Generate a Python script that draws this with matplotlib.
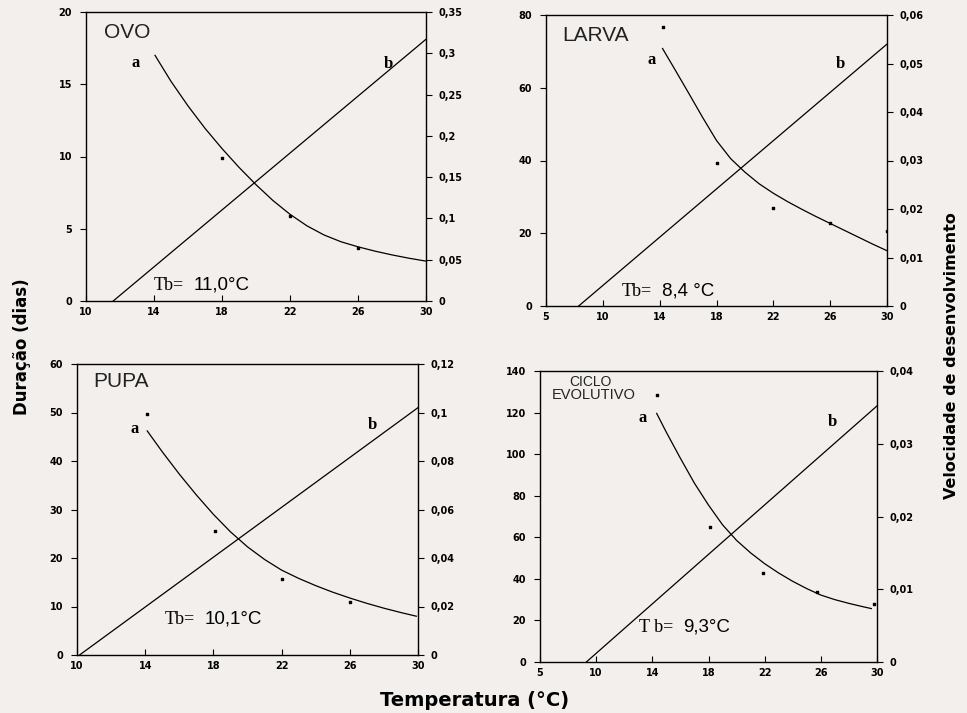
import matplotlib
matplotlib.use("Agg")
import matplotlib.pyplot as plt

BG = "#f2efec"
W, H = 967, 713

# ---------------- data ----------------
# OVO
ovo_curve_t = [14.06, 15, 16, 17, 18, 19, 20, 21, 22, 23, 24, 25, 26, 27, 28, 29, 30]
ovo_curve_d = [17.0, 15.2, 13.5, 11.95, 10.55, 9.25, 8.05, 6.95, 6.0, 5.2, 4.57, 4.1, 3.75, 3.45, 3.19, 2.96, 2.76]
ovo_pts_t = [18.0, 22.0, 26.0]
ovo_pts_d = [9.9, 5.9, 3.7]
ovo_vel_t = [11.6, 30.0]
ovo_vel_v = [0.0, 0.317]

# LARVA
larva_curve_t = [14.2, 15, 16, 17, 18, 19, 20, 21, 22, 23, 24, 25, 26, 27, 28, 29, 30]
larva_curve_d = [70.8, 65.5, 58.8, 52.0, 45.5, 40.5, 36.8, 33.6, 31.0, 28.7, 26.6, 24.6, 22.7, 20.8, 18.9, 17.0, 15.2]
larva_pts_t = [14.2, 18.0, 22.0, 26.0, 30.0]
larva_pts_d = [76.8, 39.4, 26.9, 22.7, 20.6]
larva_vel_t = [8.3, 30.0]
larva_vel_v = [0.0, 0.054]

# PUPA
pupa_curve_t = [14.12, 15, 16, 17, 18, 19, 20, 21, 22, 23, 24, 25, 26, 27, 28, 29, 29.9]
pupa_curve_d = [46.2, 41.9, 37.3, 33.0, 29.0, 25.4, 22.3, 19.7, 17.5, 15.8, 14.3, 12.95, 11.75, 10.65, 9.65, 8.75, 8.0]
pupa_pts_t = [14.1, 18.1, 22.0, 26.0]
pupa_pts_d = [49.7, 25.5, 15.7, 10.9]
pupa_vel_t = [10.15, 30.0]
pupa_vel_v = [0.0, 0.102]

# CICLO EVOLUTIVO
ciclo_curve_t = [14.31, 15, 16, 17, 18, 19, 20, 21, 22, 23, 24, 25, 26, 27, 28, 29, 29.6]
ciclo_curve_d = [119.6, 110.5, 98.0, 86.0, 75.5, 66.0, 58.5, 52.5, 47.3, 42.8, 38.8, 35.3, 32.2, 30.0, 28.2, 26.6, 25.7]
ciclo_pts_t = [14.3, 18.1, 21.9, 25.7, 29.8]
ciclo_pts_d = [128.4, 65.0, 42.7, 33.8, 27.7]
ciclo_vel_t = [9.3, 30.0]
ciclo_vel_v = [0.0, 0.0352]

# ticks
x_ticks_a = [10, 14, 18, 22, 26, 30]
x_labels_a = ["10", "14", "18", "22", "26", "30"]
x_ticks_b = [6, 10, 14, 18, 22, 26, 30]
x_labels_b = ["5", "10", "14", "18", "22", "26", "30"]

ovo_yl = [0, 5, 10, 15, 20]
ovo_yr = [0, 0.05, 0.1, 0.15, 0.2, 0.25, 0.3, 0.35]
ovo_yr_lab = ["0", "0,05", "0,1", "0,15", "0,2", "0,25", "0,3", "0,35"]
larva_yl = [0, 20, 40, 60, 80]
larva_yr = [0, 0.01, 0.02, 0.03, 0.04, 0.05, 0.06]
larva_yr_lab = ["0", "0,01", "0,02", "0,03", "0,04", "0,05", "0,06"]
pupa_yl = [0, 10, 20, 30, 40, 50, 60]
pupa_yr = [0, 0.02, 0.04, 0.06, 0.08, 0.1, 0.12]
pupa_yr_lab = ["0", "0,02", "0,04", "0,06", "0,08", "0,1", "0,12"]
ciclo_yl = [0, 20, 40, 60, 80, 100, 120, 140]
ciclo_yr = [0, 0.01, 0.02, 0.03, 0.04]
ciclo_yr_lab = ["0", "0,01", "0,02", "0,03", "0,04"]

# ---------------- figure ----------------
fig = plt.figure(figsize=(W / 100, H / 100), dpi=100, facecolor=BG)


def rect(l, r, t, b):
    return [l / W, 1 - b / H, (r - l) / W, (b - t) / H]


TICKFONT = dict(fontsize=7, fontweight="bold", family="DejaVu Sans")


def panel(box, xlim, xt, xtl, ylim, yl, yrlim, yr, yrl,
          ct, cd, pt, pd, vt, vv, title_items, a_pos, b_pos,
          tb_prefix, tb_value, tb_anchor):
    ax = fig.add_axes(rect(*box))
    ax.set_facecolor("none")
    ax.set_xlim(*xlim)
    ax.set_ylim(*ylim)
    for s in ax.spines.values():
        s.set_linewidth(1.0)
    ax.set_xticks(xt)
    ax.set_xticklabels(xtl, **TICKFONT)
    ax.set_yticks(yl)
    ax.set_yticklabels([str(v) for v in yl], **TICKFONT)
    ax.tick_params(axis="x", direction="in", length=4, width=0.8, pad=4)
    ax.tick_params(axis="y", direction="out", length=4, width=0.8, pad=6)
    ax.plot(ct, cd, color="black", lw=0.9)
    ax.scatter(pt, pd, s=4, color="black", marker="s", zorder=3)
    for txt, (x, y), fs in title_items:
        ax.text(x, y, txt, ha="center", va="center", fontsize=fs,
                family="Liberation Sans", color="#222222")
    ax.text(*a_pos, "a", ha="center", va="center", fontsize=12,
            fontweight="bold", family="Liberation Serif")
    ax.text(*b_pos, "b", ha="center", va="center", fontsize=12,
            fontweight="bold", family="Liberation Serif")
    ax.annotate(tb_prefix, xy=tb_anchor, xytext=(-3, 0),
                textcoords="offset points", ha="right", va="center",
                fontsize=13, family="Liberation Serif")
    ax.annotate(tb_value, xy=tb_anchor, xytext=(4, 0),
                textcoords="offset points", ha="left", va="center",
                fontsize=13.5, family="Liberation Sans")
    ax2 = ax.twinx()
    ax2.set_ylim(*yrlim)
    ax2.set_yticks(yr)
    ax2.set_yticklabels(yrl, **TICKFONT)
    ax2.tick_params(axis="y", direction="out", length=4, width=0.8, pad=5)
    for s in ax2.spines.values():
        s.set_visible(False)
    ax2.plot(vt, vv, color="black", lw=0.9)
    return ax


panel((86, 426, 12, 301), (10, 30), x_ticks_a, x_labels_a, (0, 20), ovo_yl,
      (0, 0.35), ovo_yr, ovo_yr_lab,
      ovo_curve_t, ovo_curve_d, ovo_pts_t, ovo_pts_d, ovo_vel_t, ovo_vel_v,
      [("OVO", (12.45, 18.6), 15)], (12.9, 16.5), (27.8, 16.4),
      "Tb=", "11,0°C", (16.0, 1.1))

panel((546, 887, 15, 306), (6, 30), x_ticks_b, x_labels_b, (0, 80), larva_yl,
      (0, 0.06), larva_yr, larva_yr_lab,
      larva_curve_t, larva_curve_d, larva_pts_t, larva_pts_d, larva_vel_t, larva_vel_v,
      [("LARVA", (9.5, 74.5), 15)], (13.4, 67.6), (26.7, 66.5),
      "Tb=", "8,4 °C", (13.75, 4.1))

panel((77, 418, 364, 655), (10, 30), x_ticks_a, x_labels_a, (0, 60), pupa_yl,
      (0, 0.12), pupa_yr, pupa_yr_lab,
      pupa_curve_t, pupa_curve_d, pupa_pts_t, pupa_pts_d, pupa_vel_t, pupa_vel_v,
      [("PUPA", (12.6, 56.4), 15)], (13.4, 46.6), (27.3, 47.5),
      "Tb=", "10,1°C", (17.15, 7.4))

panel((540, 877, 371, 662), (6, 30), x_ticks_b, x_labels_b, (0, 140), ciclo_yl,
      (0, 0.04), ciclo_yr, ciclo_yr_lab,
      ciclo_curve_t, ciclo_curve_d, ciclo_pts_t, ciclo_pts_d, ciclo_vel_t, ciclo_vel_v,
      [("CICLO", (9.6, 134.7), 10), ("EVOLUTIVO", (9.8, 128.3), 10.5)],
      (13.3, 117.5), (26.8, 115.5), "T b=", "9,3°C", (15.8, 16.8))

fig.text(22 / W, 1 - 347 / H, "Duração (dias)", rotation=90, ha="center",
         va="center", fontsize=12, fontweight="bold", family="DejaVu Sans")
fig.text(952 / W, 1 - 356 / H, "Velocidade de desenvolvimento", rotation=90,
         ha="center", va="center", fontsize=11.5, fontweight="bold",
         family="DejaVu Sans")
fig.text(475 / W, 1 - 700 / H, "Temperatura (°C)", ha="center", va="center",
         fontsize=14, fontweight="bold", family="DejaVu Sans")

fig.savefig("out.png", dpi=100, facecolor=BG)
